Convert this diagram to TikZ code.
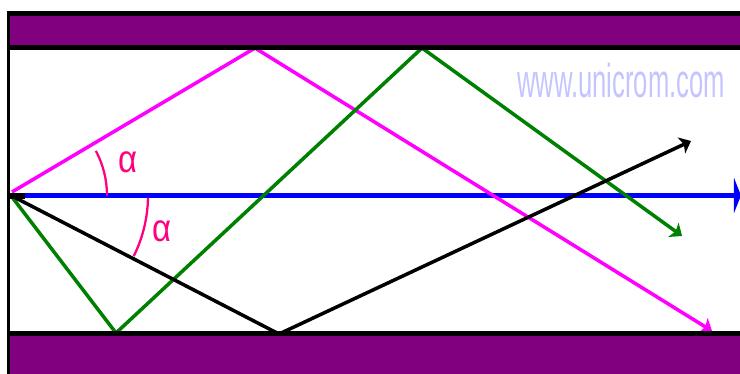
\documentclass[tikz,border=0pt]{standalone}
\usepackage{fontspec}
\usepackage{tikz}
\usetikzlibrary{arrows.meta}
\newfontfamily\wmfont{Liberation Sans}
\definecolor{mypurple}{RGB}{128,0,128}
\definecolor{mymagenta}{RGB}{255,0,255}
\definecolor{mygreen}{RGB}{0,128,0}
\definecolor{myblue}{RGB}{0,0,255}
\definecolor{mypink}{RGB}{255,0,128}
\definecolor{mylilac}{RGB}{196,196,255}
\tikzset{
  ray/.style={line width=2pt, -{Stealth[length=6pt, width=10pt, inset=1.5pt]}},
  magray/.style={ray, color=mymagenta},
  grnray/.style={ray, color=mygreen},
  blkray/.style={ray, color=black},
  axisray/.style={line width=2.8pt, color=myblue, -{Triangle[length=4pt, width=20pt]}},
  anglearc/.style={line width=1.3pt, color=mypink},
  alphalbl/.style={font=\wmfont\fontsize{22}{22}\selectfont, text=mypink,
    xscale=0.85, transform shape, inner sep=0pt},
  watermark/.style={font=\wmfont\fontsize{27}{27}\selectfont, text=mylilac,
    xscale=0.54, transform shape, inner sep=0pt},
  wallfill/.style={fill=mypurple},
  wallline/.style={fill=black}
}

\begin{document}
\begin{tikzpicture}[x=0.02cm, y=-0.02cm]
  \useasboundingbox (0,0) rectangle (740,374);

  % Optical axis
  \coordinate (src) at (12,195.5);
  \coordinate (axisend) at (741,195.5);
  \draw[axisray] (src) -- (axisend);

  % Reflection points
  \coordinate (msrc) at (12,192);
  \coordinate (mtop) at (255,48);
  \coordinate (mend) at (712,331);
  \coordinate (gsrc) at (12,197);
  \coordinate (gbot) at (116,333);
  \coordinate (gtop) at (422,48);
  \coordinate (gend) at (682,236);
  \coordinate (bsrc) at (12,196);
  \coordinate (bbot) at (279,334);
  \coordinate (bend) at (691,141);

  % Rays
  \draw[magray] (msrc) -- (mtop) -- (mend);
  \draw[grnray] (gsrc) -- (gbot) -- (gtop) -- (gend);
  \draw[blkray] (bsrc) -- (bbot) -- (bend);
  \fill[black] (10,193) rectangle (25,199);

  % Angles
  \draw[anglearc] (src) ++(0:95) arc[start angle=0, end angle=-28, radius=95];
  \draw[anglearc] (src) ++(1:136) arc[start angle=1, end angle=26.5, radius=136];
  \node[alphalbl] (alpha1) at (128,162) {α};
  \node[alphalbl] (alpha2) at (162,231) {α};

  % Walls
  \fill[wallline] (7,11) rectangle (740,50);
  \fill[wallfill] (10,16) rectangle (740,45);
  \fill[wallline] (7,331) rectangle (740,336);
  \fill[wallfill] (10,336) rectangle (740,374);
  \fill[wallline] (7,11) rectangle (10,374);

  % Watermark
  \node[watermark] (web) at (621,81) {www.unicrom.com};
\end{tikzpicture}
\end{document}
